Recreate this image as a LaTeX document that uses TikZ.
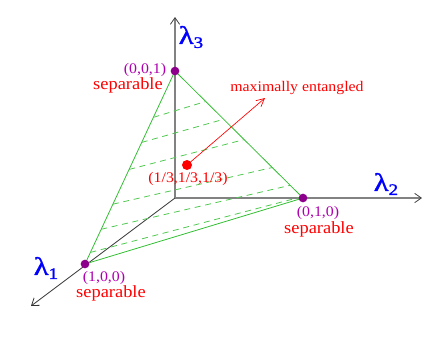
\documentclass[tikz,border=0pt]{standalone}
\usepackage{fontspec}
\setmainfont{Liberation Serif}
\newfontfamily\labfont[FakeStretch=1.08]{Liberation Serif}
\newfontfamily\lamfont[FakeStretch=1.2,FakeBold=1.5]{Liberation Serif}
\usetikzlibrary{arrows.meta,calc}
\definecolor{lamblue}{RGB}{0,0,255}
\definecolor{ptred}{RGB}{255,0,0}
\definecolor{dotpurple}{RGB}{140,0,140}
\definecolor{txtpurple}{RGB}{175,0,175}
\definecolor{facegreen}{RGB}{50,190,50}
\definecolor{hatchgreen}{RGB}{80,200,80}
\definecolor{axisgray}{RGB}{130,130,130}
\tikzset{
  axisline/.style={draw=axisgray,line width=1.4pt,-{Straight Barb[length=5pt,width=7pt,line width=0.6pt,color=black!75]}},
  axisthin/.style={draw=black!80,line width=0.6pt,-{Straight Barb[length=5pt,width=7pt]}},
  faceline/.style={draw=facegreen,line width=0.6pt},
  hatch/.style={draw=hatchgreen,line width=0.6pt,dash pattern=on 4.5pt off 3.5pt},
  vdot/.style={circle,fill=dotpurple,minimum size=6.5pt,inner sep=0pt},
  rdot/.style={circle,fill=ptred,minimum size=7.5pt,inner sep=0pt},
  coordlab/.style={text=txtpurple,inner sep=0pt,font=\labfont\fontsize{11}{12}\selectfont},
  seplab/.style={text=ptred,inner sep=0pt,font=\labfont\fontsize{12.8}{14}\selectfont},
  redlab/.style={text=ptred,inner sep=0pt,font=\labfont\fontsize{11}{12}\selectfont},
  lamlab/.style={text=lamblue,inner sep=0pt,font=\lamfont\fontsize{19}{20}\selectfont},
  redarrow/.style={draw=ptred,line width=0.5pt,-{Straight Barb[length=6pt,width=6pt]}}
}
\newcommand{\lam}[1]{λ\raisebox{-0.35ex}{\fontsize{12}{12}\selectfont #1}}
\begin{document}
\begin{tikzpicture}[x=0.75pt,y=-0.75pt]
\useasboundingbox (0,0) rectangle (436,337);
% axes
\coordinate (O) at (175,198);
\coordinate (e3) at (175,17);
\coordinate (e2) at (422,198);
\coordinate (e1) at (31,306);
\coordinate (A) at (85,264);
\coordinate (B) at (303,198);
\coordinate (C) at (175,71);
\draw[axisline] (O) -- (e3);
\draw[axisline] (O) -- (e2);
\draw[axisthin] (O) -- (e1);
% face
\draw[faceline] (A) -- (C) -- (B) -- cycle;
% hatching
\foreach \sl/\sr in {0.76/0.76,0.63/0.62,0.49/0.46,0.31/0.24,0.18/0.10,0.06/0.01}{
  \draw[hatch] ($(A)!\sl!(C)$) -- ($(B)!\sr!(C)$);
}
% vertices
\node[vdot] (v1) at (A) {};
\node[vdot] (v2) at (B) {};
\node[vdot] (v3) at (C) {};
% maximally entangled point
\node[rdot] (me) at (187,165) {};
\node[redlab] (melab) at (297,88) {maximally entangled};
\coordinate (metip) at (265,98);
\draw[redarrow] (me) -- (metip);
\node[redlab] (mecoord) at (188,179) {(1/3,1/3,1/3)};
% labels
\node[coordlab] (c3) at (145,70) {(0,0,1)};
\node[seplab] (s3) at (128,85) {separable};
\node[coordlab] (c2) at (318,213) {(0,1,0)};
\node[seplab] (s2) at (319,229) {separable};
\node[coordlab] (c1) at (104,278) {(1,0,0)};
\node[seplab] (s1) at (111,293) {separable};
% axis names
\node[lamlab] (l3) at (191,37) {\lam{3}};
\node[lamlab] (l2) at (386,184) {\lam{2}};
\node[lamlab] (l1) at (46,268) {\lam{1}};
\end{tikzpicture}
\end{document}
